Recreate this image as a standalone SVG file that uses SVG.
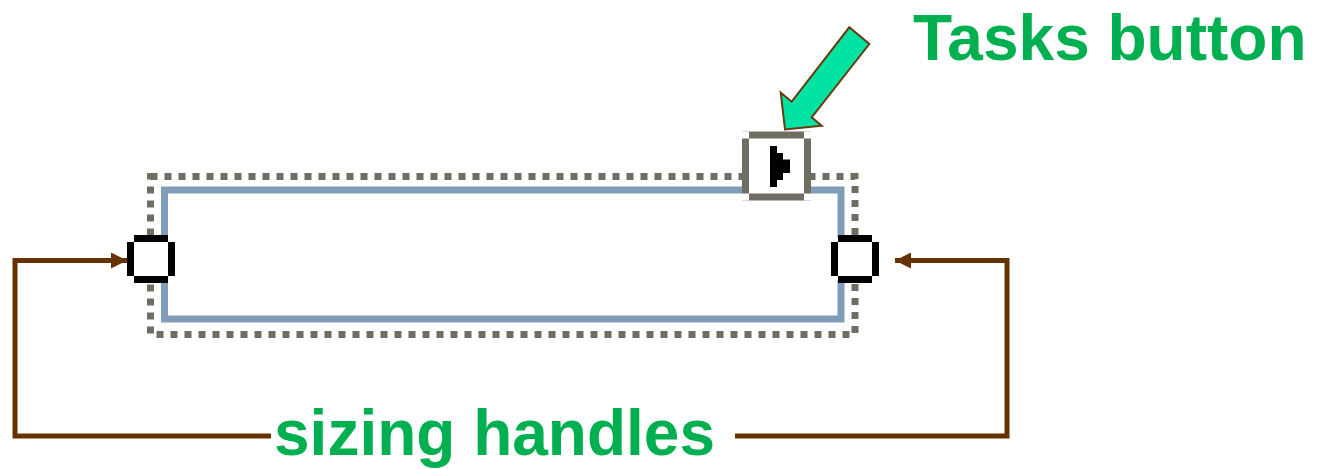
<svg xmlns="http://www.w3.org/2000/svg" width="1319" height="469" viewBox="0 0 1319 469">
<style>
.lbl{font-family:"Liberation Sans",Arial,sans-serif;font-weight:bold;fill:#00b050;font-size:64px}
.conn{fill:none;stroke:#663300;stroke-width:5}
.hdl{fill:#000}
</style>
<defs>
<marker id="ah" viewBox="0 0 16 16" refX="16" refY="8" markerWidth="16" markerHeight="16" markerUnits="userSpaceOnUse" orient="auto">
<path d="M0,0 L16,8 L0,16 Z" fill="#663300"/>
</marker>
</defs>
<rect width="1319" height="469" fill="#fff"/>
<g id="selection">
<rect x="150.5" y="176.5" width="704.5" height="158" fill="none" stroke="#706d62" stroke-width="7" stroke-dasharray="7 7"/>
<rect x="164.5" y="190" width="676.5" height="129" fill="#fff" stroke="#7f9db9" stroke-width="7"/>
</g>
<g id="tasks-button">
<rect x="745.5" y="135" width="62" height="62" fill="#fff" stroke="#706d62" stroke-width="7"/>
<rect x="742" y="131.5" width="7" height="7" fill="#fff"/>
<rect x="804" y="131.5" width="7" height="7" fill="#fff"/>
<rect x="742" y="193.5" width="7" height="7" fill="#fff"/>
<rect x="804" y="193.5" width="7" height="7" fill="#fff"/>
<path d="M770,146 H777 V153 H783 V159.5 H790 V173 H783 V180 H777 V187 H770 Z" fill="#000"/>
</g>
<g id="left-handle">
<rect x="130" y="238" width="42" height="42" fill="#fff"/>
<rect class="hdl" x="134" y="235" width="34" height="7"/>
<rect class="hdl" x="134" y="276" width="34" height="7"/>
<rect class="hdl" x="127" y="242" width="7" height="34"/>
<rect class="hdl" x="168" y="242" width="7" height="34"/>
</g>
<g id="right-handle">
<rect x="834" y="238" width="42" height="42" fill="#fff"/>
<rect class="hdl" x="838" y="235" width="34" height="7"/>
<rect class="hdl" x="838" y="276" width="34" height="7"/>
<rect class="hdl" x="831" y="242" width="7" height="34"/>
<rect class="hdl" x="872" y="242" width="7" height="34"/>
</g>
<g id="tasks-arrow">
<path d="M785,129.5 L780.7,92.7 L791.7,101.7 L849.3,27.3 L869.3,44 L811.7,117.3 L821.7,125.7 Z" fill="#00e3a2" stroke="#6b3a10" stroke-width="2" stroke-linejoin="miter"/>
</g>
<g id="connectors">
<path class="conn" d="M271,436 H15 V260.5 H127" marker-end="url(#ah)"/>
<path class="conn" d="M735,436 H1007 V260.5 H895" marker-end="url(#ah)"/>
</g>
<g id="labels">
<text class="lbl" x="913" y="60">Tasks button</text>
<text class="lbl" x="274" y="455">sizing handles</text>
</g>
</svg>
